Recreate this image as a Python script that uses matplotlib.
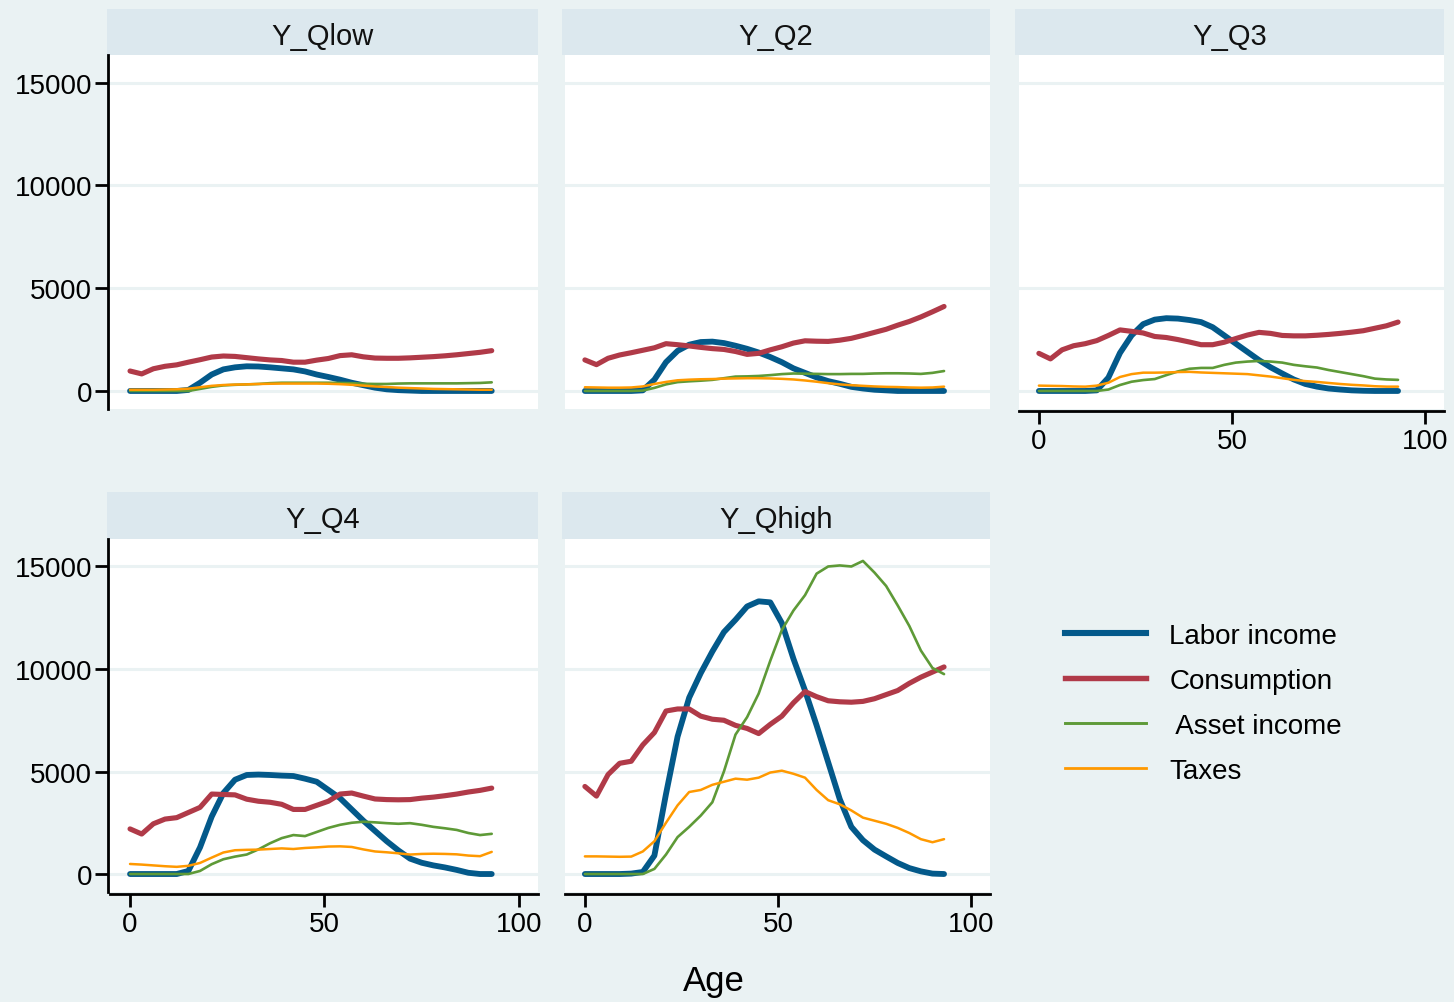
import numpy as np
import matplotlib
matplotlib.use("Agg")
import matplotlib.pyplot as plt
from matplotlib.lines import Line2D

plt.rcParams['font.family'] = ['Liberation Sans', 'DejaVu Sans']

# ── Data: age profiles by income quintile ────────────────────
ages = list(range(0, 94, 3))

qlow_labor   = [0, 0, 0, 0, 0, 50, 400, 800, 1050, 1150, 1200, 1190, 1150, 1100, 1050, 950,
                800, 680, 550, 400, 280, 160, 80, 40, 20, 0, 0, 0, 0, 0, 0, 0]
qlow_cons    = [970, 830, 1080, 1200, 1270, 1400, 1520, 1650, 1700, 1680, 1620, 1560, 1510, 1480, 1400, 1400,
                1500, 1580, 1720, 1760, 1660, 1600, 1590, 1590, 1610, 1640, 1670, 1710, 1760, 1820, 1880, 1960]
qlow_asset   = [0, 0, 0, 0, 0, 0, 100, 200, 270, 300, 320, 340, 380, 400, 400, 400,
                400, 400, 390, 380, 350, 340, 340, 360, 370, 370, 370, 370, 370, 380, 390, 420]
qlow_taxes   = [60, 60, 60, 70, 80, 110, 180, 250, 290, 310, 320, 340, 350, 360, 360, 360,
                360, 350, 330, 300, 260, 220, 190, 160, 140, 120, 100, 90, 80, 70, 60, 60]

q2_labor     = [0, 0, 0, 0, 0, 30, 550, 1400, 1950, 2250, 2380, 2400, 2330, 2200, 2050, 1870,
                1650, 1400, 1100, 880, 660, 480, 350, 200, 120, 60, 30, 0, 0, 0, 0, 0]
q2_cons      = [1510, 1280, 1590, 1750, 1860, 1980, 2100, 2300, 2250, 2190, 2120, 2060, 2020, 1920, 1780, 1830,
                2000, 2150, 2330, 2440, 2420, 2410, 2470, 2560, 2700, 2850, 3000, 3200, 3380, 3600, 3850, 4110]
q2_asset     = [0, 0, 0, 0, 0, 20, 150, 320, 430, 470, 500, 540, 620, 700, 710, 730,
                770, 820, 850, 840, 830, 820, 820, 830, 830, 850, 860, 860, 850, 830, 880, 970]
q2_taxes     = [180, 170, 160, 160, 170, 220, 340, 440, 520, 550, 570, 580, 600, 610, 620, 620,
                610, 590, 560, 510, 450, 380, 320, 280, 250, 220, 200, 190, 170, 160, 170, 210]

q3_labor     = [0, 0, 0, 0, 0, 30, 650, 1850, 2700, 3250, 3470, 3540, 3520, 3450, 3350, 3100,
                2700, 2300, 1900, 1500, 1150, 850, 560, 340, 210, 120, 70, 30, 10, 0, 0, 0]
q3_cons      = [1830, 1560, 2000, 2200, 2300, 2450, 2700, 2970, 2900, 2820, 2650, 2600, 2500, 2380, 2250, 2250,
                2370, 2550, 2720, 2850, 2800, 2700, 2680, 2680, 2710, 2750, 2800, 2860, 2930, 3050, 3170, 3350]
q3_asset     = [0, 0, 0, 0, 0, 0, 70, 290, 450, 530, 580, 770, 950, 1080, 1120, 1120,
                1270, 1380, 1430, 1460, 1430, 1380, 1270, 1200, 1140, 1020, 920, 820, 720, 600, 560, 540]
q3_taxes     = [260, 250, 240, 220, 210, 260, 400, 680, 820, 890, 890, 900, 920, 930, 900, 880,
                860, 840, 820, 760, 700, 620, 540, 480, 440, 390, 340, 300, 270, 230, 210, 210]

q4_labor     = [0, 0, 0, 0, 0, 150, 1300, 2800, 3950, 4600, 4830, 4850, 4830, 4800, 4780, 4650,
                4500, 4100, 3700, 3150, 2600, 2100, 1600, 1150, 750, 550, 420, 320, 200, 60, 0, 0]
q4_cons      = [2200, 1950, 2450, 2680, 2750, 3000, 3250, 3900, 3880, 3860, 3650, 3550, 3500, 3400, 3150, 3150,
                3350, 3550, 3900, 3950, 3800, 3660, 3630, 3620, 3630, 3700, 3750, 3820, 3900, 4000, 4080, 4190]
q4_asset     = [0, 0, 0, 0, 0, 0, 150, 480, 720, 850, 950, 1200, 1500, 1750, 1900, 1850,
                2050, 2250, 2400, 2500, 2550, 2520, 2480, 2450, 2480, 2400, 2300, 2230, 2150, 2000, 1900, 1960]
q4_taxes     = [490, 460, 420, 380, 350, 400, 540, 800, 1050, 1160, 1180, 1190, 1220, 1250, 1220, 1270,
                1300, 1340, 1350, 1320, 1200, 1100, 1060, 1010, 950, 980, 990, 980, 960, 900, 870, 1080]

qhigh_labor  = [0, 0, 0, 0, 20, 100, 900, 3900, 6700, 8600, 9800, 10850, 11800, 12400, 13050, 13300,
                13250, 12240, 10500, 8950, 7250, 5450, 3650, 2300, 1650, 1190, 860, 540, 290, 130, 20, 0]
qhigh_cons   = [4270, 3800, 4850, 5400, 5500, 6300, 6900, 7950, 8050, 8050, 7700, 7550, 7500, 7250, 7100, 6850,
                7300, 7700, 8350, 8900, 8650, 8450, 8400, 8380, 8420, 8550, 8750, 8950, 9300, 9600, 9850, 10100]
qhigh_asset  = [0, 0, 0, 0, 0, 0, 250, 950, 1800, 2300, 2850, 3500, 5000, 6800, 7650, 8800,
                10400, 11900, 12850, 13600, 14650, 15000, 15050, 15000, 15270, 14700, 14050, 13100, 12100, 10900, 10050, 9750]
qhigh_taxes  = [860, 860, 850, 840, 850, 1100, 1600, 2500, 3350, 4000, 4100, 4350, 4500, 4650, 4600, 4700,
                4950, 5040, 4890, 4700, 4100, 3600, 3400, 3100, 2750, 2600, 2450, 2250, 2000, 1700, 1550, 1700]

panel_names = ["Y_Qlow", "Y_Q2", "Y_Q3", "Y_Q4", "Y_Qhigh"]
panel_data = {
    "Y_Qlow":  (qlow_labor, qlow_cons, qlow_asset, qlow_taxes),
    "Y_Q2":    (q2_labor, q2_cons, q2_asset, q2_taxes),
    "Y_Q3":    (q3_labor, q3_cons, q3_asset, q3_taxes),
    "Y_Q4":    (q4_labor, q4_cons, q4_asset, q4_taxes),
    "Y_Qhigh": (qhigh_labor, qhigh_cons, qhigh_asset, qhigh_taxes),
}
series_labels = ["Labor income", "Consumption", " Asset income", "Taxes"]
y_ticks = [0, 5000, 10000, 15000]
x_ticks = [0, 50, 100]

# ── Styling ──────────────────────────────────────────────────
colors = ["#03598A", "#B03A48", "#5E9A37", "#FF9900"]
widths = [4.2, 3.7, 1.9, 1.8]
BG = "#EAF2F3"
STRIP = "#DCE8EE"
W, H = 1454, 1003

fig = plt.figure(figsize=(W / 100, H / 100), dpi=100)
fig.patch.set_facecolor(BG)


def px_rect(x0, y0, x1, y1):
    return [x0 / W, 1 - y1 / H, (x1 - x0) / W, (y1 - y0) / H]


col_plot = [(110, 538), (565, 990), (1019, 1444)]
col_strip = [(107, 538), (562, 990), (1015, 1444)]
row_plot = [(56, 410), (540, 893)]
row_strip = [(10, 56), (493, 540)]
layout = [(0, 0), (1, 0), (2, 0), (0, 1), (1, 1)]

for name, (c, r) in zip(panel_names, layout):
    # strip title
    sx = fig.add_axes(px_rect(col_strip[c][0], row_strip[r][0], col_strip[c][1], row_strip[r][1]))
    sx.set_facecolor(STRIP)
    sx.set_xticks([]); sx.set_yticks([])
    for s in sx.spines.values():
        s.set_visible(False)
    sx.text(0.5, 0.42, name, ha='center', va='center', fontsize=21, color='#111111',
            transform=sx.transAxes)

    ax = fig.add_axes(px_rect(col_plot[c][0], row_plot[r][0], col_plot[c][1], row_plot[r][1]))
    ax.set_facecolor('white')
    for vals, col, lw in zip(panel_data[name], colors, widths):
        ax.plot(ages, vals, color=col, lw=lw, solid_capstyle='round',
                solid_joinstyle='round')

    ax.set_xlim(-5.15, 104.9)
    ax.set_ylim(-877, 16340)
    ax.set_yticks(y_ticks)
    ax.set_xticks(x_ticks)
    ax.yaxis.grid(True, color=BG, lw=2.2)
    ax.set_axisbelow(True)

    for s in ['top', 'right']:
        ax.spines[s].set_visible(False)

    show_y = (c == 0)
    show_x = (r == 1) or (c == 2)

    if show_y:
        ax.spines['left'].set_position(('outward', 1.5))
        ax.spines['left'].set_linewidth(2)
        ax.tick_params(axis='y', length=9.5, width=2, pad=2, labelsize=20)
    else:
        ax.spines['left'].set_visible(False)
        ax.tick_params(axis='y', left=False, labelleft=False)

    if show_x:
        ax.spines['bottom'].set_position(('outward', 1.5))
        ax.spines['bottom'].set_linewidth(2)
        ax.tick_params(axis='x', length=9.5, width=2, pad=3, labelsize=20)
    else:
        ax.spines['bottom'].set_visible(False)
        ax.tick_params(axis='x', bottom=False, labelbottom=False)

fig.text(714 / W, 1 - 982 / H, "Age", ha='center', va='center', fontsize=25)

handles = [Line2D([], [], color=col, lw=lw + 0.2) for col, lw in zip(colors, widths)]
fig.legend(handles, series_labels, loc='upper left',
           bbox_to_anchor=(1065 / W, 1 - 624 / H), frameon=False, fontsize=20,
           handlelength=2.9, handletextpad=0.85, labelspacing=0.68,
           borderpad=0, borderaxespad=0)

fig.savefig("out.png", dpi=100, facecolor=BG)
